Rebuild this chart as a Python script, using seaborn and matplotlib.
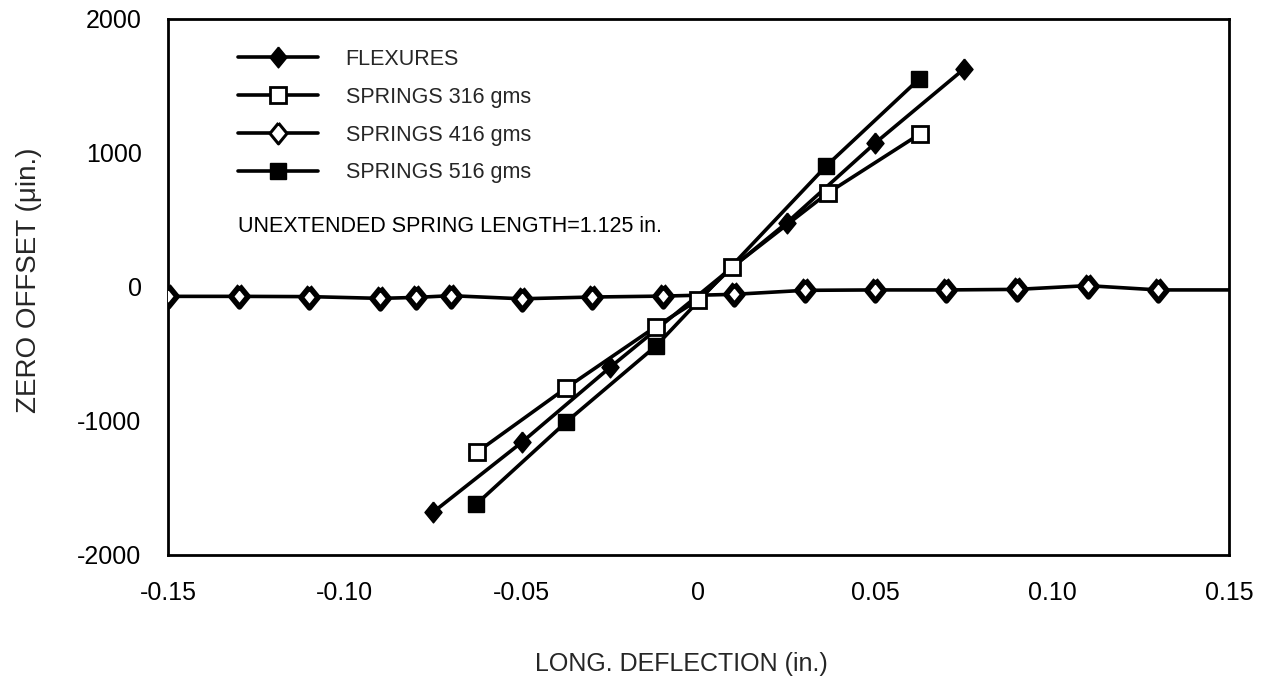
import matplotlib
matplotlib.use("Agg")
import matplotlib.pyplot as plt
from matplotlib.lines import Line2D
import numpy as np
import pandas as pd
import seaborn as sns

# ---- data ----
flex_x = [-0.075, -0.05, -0.025, 0.025, 0.05, 0.075]
flex_y = [-1680, -1160, -600, 480, 1075, 1625]

s316_x = [-0.0625, -0.0375, -0.012, 0.0, 0.0095, 0.0365, 0.0625]
s316_y = [-1230, -755, -295, -95, 147, 700, 1140]

s416_x = [-0.15, -0.13, -0.11, -0.09, -0.08, -0.07, -0.05, -0.03, -0.01,
          0.01, 0.03, 0.05, 0.07, 0.09, 0.11, 0.13, 0.15]
s416_y = [-70, -70, -72, -85, -78, -65, -88, -75, -68,
          -55, -25, -22, -22, -18, 10, -22, -22]

s516_x = [-0.0628, -0.0375, -0.012, 0.0362, 0.0624]
s516_y = [-1620, -1010, -440, 905, 1552]

labels = ["FLEXURES", "SPRINGS 316 gms", "SPRINGS 416 gms", "SPRINGS 516 gms"]
x_ticks = [-0.15, -0.10, -0.05, 0.0, 0.05, 0.10, 0.15]
x_ticklabels = ["-0.15", "-0.10", "-0.05", "0", "0.05", "0.10", "0.15"]
y_ticks = [-2000, -1000, 0, 1000, 2000]
y_ticklabels = ["-2000", "-1000", "0", "1000", "2000"]
note = "UNEXTENDED SPRING LENGTH=1.125 in."

# ---- style ----
sns.set_style("white")
plt.rcParams["font.family"] = ["Liberation Sans", "DejaVu Sans"]

fig = plt.figure(figsize=(12.61, 6.85), dpi=100)
ax = fig.add_axes([0.1332, 0.1898, 0.9746 - 0.1332, 0.9723 - 0.1898])

diamond = [(0, 1.0), (0.82, 0), (0, -1.0), (-0.82, 0), (0, 1.0)]
lw = 2.6

styles = {
    labels[0]: dict(marker=diamond, markersize=15, markerfacecolor="black",
                    markeredgecolor="black", markeredgewidth=1.0),
    labels[1]: dict(marker="s", markersize=11, markerfacecolor="white",
                    markeredgecolor="black", markeredgewidth=2.0),
    labels[2]: dict(marker=diamond, markersize=15, markerfacecolor="white",
                    markeredgecolor="black", markeredgewidth=2.2),
    labels[3]: dict(marker="s", markersize=12, markerfacecolor="black",
                    markeredgecolor="black", markeredgewidth=1.0),
}

series = [
    (labels[2], s416_x, s416_y),
    (labels[0], flex_x, flex_y),
    (labels[3], s516_x, s516_y),
    (labels[1], s316_x, s316_y),
]

for name, xs, ys in series:
    df = pd.DataFrame({"x": xs, "y": ys})
    kw = dict(styles[name])
    if name == labels[2]:
        # heavy outline in the plot (scan makes these look nearly solid)
        kw["markeredgewidth"] = 4.0
        # line continues to the right frame, last point carries no marker
        kw["markevery"] = list(range(len(xs) - 1))
    sns.lineplot(data=df, x="x", y="y", ax=ax, color="black", linewidth=lw,
                 estimator=None, sort=False, legend=False, zorder=3, **kw)

ax.set_xlim(-0.15, 0.15)
ax.set_ylim(-2000, 2000)
ax.set_xticks(x_ticks)
ax.set_xticklabels(x_ticklabels)
ax.set_yticks(y_ticks)
ax.set_yticklabels(y_ticklabels)
ax.tick_params(axis="both", direction="in", length=6, width=1.6,
               labelsize=18, pad=19, colors="black")
for sp in ax.spines.values():
    sp.set_visible(True)
    sp.set_linewidth(2.0)
    sp.set_color("black")

ax.set_xlabel("LONG. DEFLECTION (in.)", fontsize=18)
ax.set_ylabel("ZERO OFFSET (μin.)", fontsize=20)
ax.xaxis.set_label_coords(0.4835, -0.181)
ax.yaxis.set_label_coords(-0.119, 0.513)

handles = []
for name in labels:
    handles.append(Line2D([], [], color="black", linewidth=lw, **styles[name]))
leg = ax.legend(handles, labels, loc="upper left",
                bbox_to_anchor=(0.066, 0.944), frameon=False, fontsize=15.5,
                handlelength=3.7, handletextpad=1.3, labelspacing=0.78,
                borderpad=0, borderaxespad=0, numpoints=1)

ax.text(0.066, 0.612, note, transform=ax.transAxes, fontsize=15.5,
        ha="left", va="center", color="black")

fig.savefig("out.png", dpi=100)
